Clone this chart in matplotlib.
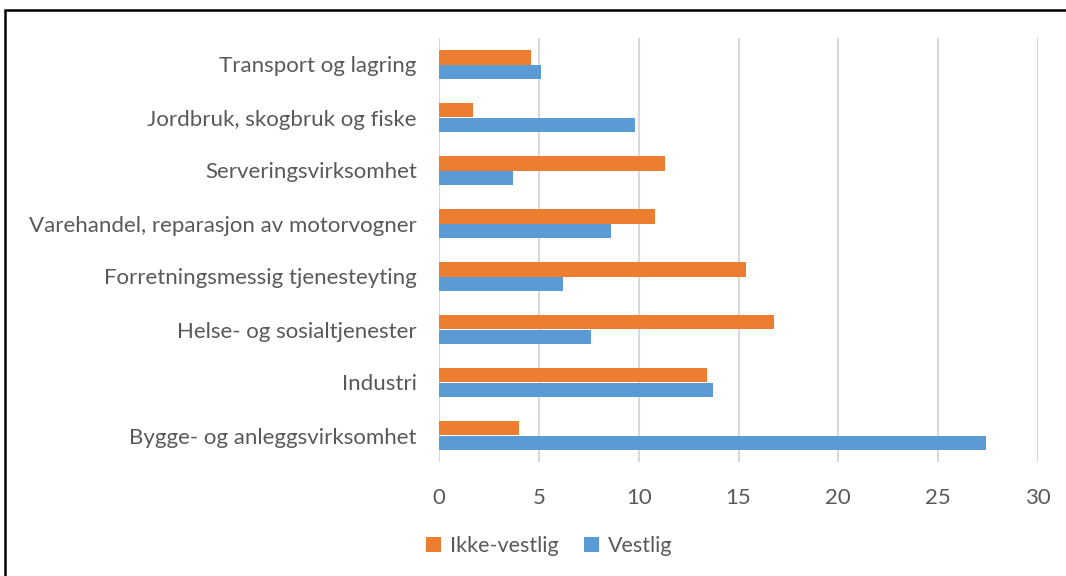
import matplotlib.pyplot as plt
import matplotlib.patches as mpatches
import numpy as np

categories = ["Transport og lagring", "Jordbruk, skogbruk og fiske", "Serveringsvirksomhet",
              "Varehandel, reparasjon av motorvogner", "Forretningsmessig tjenesteyting",
              "Helse- og sosialtjenester", "Industri", "Bygge- og anleggsvirksomhet"]
ikke_vestlig = [4.6, 1.7, 11.3, 10.8, 15.4, 16.8, 13.4, 4.0]
vestlig = [5.1, 9.8, 3.7, 8.6, 6.2, 7.6, 13.7, 27.4]
xticks = [0, 5, 10, 15, 20, 25, 30]

plt.rcParams['font.family'] = ['Lato', 'DejaVu Sans']
grey = '#595959'

fig = plt.figure(figsize=(10.66, 5.76), dpi=100)
ax = fig.add_axes([439/1066, 1 - 462/576, (1038 - 439)/1066, (462 - 38)/576])

y = np.arange(len(categories))
h = 0.265
ax.barh(y - h/2, ikke_vestlig, height=h, color='#ED7D31', label='Ikke-vestlig', zorder=3)
ax.barh(y + h/2, vestlig, height=h, color='#5B9BD5', label='Vestlig', zorder=3)

ax.set_ylim(len(categories) - 0.5, -0.5)
ax.set_xlim(0, 30)
ax.set_xticks(xticks)
ax.set_yticks(y)
ax.set_yticklabels(categories)
ax.tick_params(axis='both', length=0, labelsize=16, colors=grey)
ax.tick_params(axis='x', pad=19)
ax.tick_params(axis='y', pad=16)
ax.grid(axis='x', color='#D9D9D9', linewidth=1.5, zorder=0)
for s in ax.spines.values():
    s.set_visible(False)

leg = fig.legend(loc='center', bbox_to_anchor=(549/1066, 1 - 546/576), ncol=2, frameon=False,
                 fontsize=15.5, handlelength=0.7, handleheight=0.7, handletextpad=0.4,
                 columnspacing=1.2)
for t in leg.get_texts():
    t.set_color(grey)

# outer frame of the figure box
fig.patches.append(mpatches.Rectangle((5/1066, -0.1), 1.2, 1 - 10/576 + 0.1,
                                      transform=fig.transFigure, fill=False,
                                      edgecolor='black', linewidth=1.8))

plt.savefig('out.png')
